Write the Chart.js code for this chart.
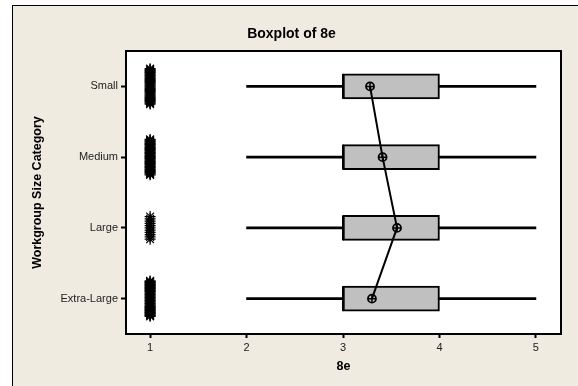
<!DOCTYPE html>
<html lang="en">
<head>
    <meta charset="UTF-8">
    <title>Boxplot of 8e</title>
    <script src="https://cdn.jsdelivr.net/npm/chart.js"></script>
    <style>
        html, body { margin: 0; padding: 0; background: #ffffff; }
    </style>
</head>
<body>
    <div style="width: 578px; height: 386px">
        <canvas id="myChart"></canvas>
    </div>
    <script>
    // Groups, top to bottom
    const categories = ['Small', 'Medium', 'Large', 'Extra-Large'];

    // Box statistics per group
    const whiskerLow = [2, 2, 2, 2];
    const q1 = [3, 3, 3, 3];
    const medians = [3, 3, 3, 3];
    const q3 = [4, 4, 4, 4];
    const whiskerHigh = [5, 5, 5, 5];
    const means = [3.28, 3.41, 3.56, 3.30];

    // Outliers: every one of them sits at 1, only the counts differ
    const outlierValue = 1;
    const outlierCounts = [40, 44, 11, 48];

    const xTicks = [1, 2, 3, 4, 5];

    // tied outliers are stacked along the group band
    const tieStep = 0.032;
    const maxSpread = 0.5;
    const outlierPoints = [];
    outlierCounts.forEach((n, i) => {
        const spread = Math.min((n - 1) * tieStep, maxSpread);
        for (let k = 0; k < n; k++) {
            const off = n > 1 ? -spread / 2 + spread * k / (n - 1) : 0;
            outlierPoints.push({ x: outlierValue, y: i + off });
        }
    });

    const frame = {
        id: 'frame',
        beforeDraw(chart) {
            const ctx = chart.ctx;
            const a = chart.chartArea;
            ctx.save();
            ctx.fillStyle = '#ffffff';
            ctx.fillRect(0, 0, chart.width, chart.height);
            ctx.fillStyle = '#efebe1';
            ctx.fillRect(12.5, 5.5, chart.width + 10, chart.height + 10);
            ctx.strokeStyle = '#000000';
            ctx.lineWidth = 1;
            ctx.strokeRect(12.5, 5.5, chart.width + 10, chart.height + 10);
            ctx.fillStyle = '#ffffff';
            ctx.fillRect(a.left, a.top, a.right - a.left, a.bottom - a.top);
            ctx.restore();
        },
        afterDraw(chart) {
            const ctx = chart.ctx;
            const a = chart.chartArea;
            ctx.save();
            ctx.strokeStyle = '#000000';
            ctx.lineWidth = 2;
            ctx.strokeRect(a.left, a.top, a.right - a.left, a.bottom - a.top);
            ctx.restore();
        }
    };

    const tickFont = { family: "'Liberation Sans', Arial, sans-serif", size: 11 };
    const axisFont = { family: "'Liberation Sans', Arial, sans-serif", size: 12.5, weight: 'bold' };
    const titleFont = { family: "'Liberation Sans', Arial, sans-serif", size: 14, weight: 'bold' };

    const ctx = document.getElementById('myChart').getContext('2d');
    const myChart = new Chart(ctx, {
        type: 'bar',
        data: {
            datasets: [
                {
                    // whiskers
                    data: categories.map((c, i) => ({ y: i, x: [whiskerLow[i], whiskerHigh[i]] })),
                    backgroundColor: '#000000',
                    borderWidth: 0,
                    barThickness: 2,
                    grouped: false,
                    order: 6
                },
                {
                    // boxes
                    data: categories.map((c, i) => ({ y: i, x: [q1[i], q3[i]] })),
                    backgroundColor: '#c0c0c0',
                    borderColor: '#000000',
                    borderWidth: 2,
                    borderSkipped: false,
                    barThickness: 25,
                    grouped: false,
                    order: 5
                },
                {
                    type: 'scatter',
                    data: categories.map((c, i) => ({ x: medians[i], y: i })),
                    pointStyle: 'line',
                    rotation: 90,
                    pointRadius: 12.5,
                    borderColor: '#000000',
                    borderWidth: 2,
                    order: 4
                },
                {
                    type: 'scatter',
                    data: outlierPoints,
                    pointStyle: 'star',
                    pointRadius: 5.5,
                    borderColor: '#000000',
                    backgroundColor: '#000000',
                    borderWidth: 1.2,
                    order: 3
                },
                {
                    // mean connect line
                    type: 'line',
                    indexAxis: 'y',
                    data: categories.map((c, i) => ({ x: means[i], y: i })),
                    borderColor: '#000000',
                    borderWidth: 2,
                    fill: false,
                    tension: 0,
                    pointStyle: 'circle',
                    pointRadius: 4,
                    pointBackgroundColor: 'rgba(0,0,0,0)',
                    pointBorderColor: '#000000',
                    pointBorderWidth: 1.8,
                    order: 2
                },
                {
                    type: 'scatter',
                    data: categories.map((c, i) => ({ x: means[i], y: i })),
                    pointStyle: 'cross',
                    pointRadius: 4,
                    borderColor: '#000000',
                    borderWidth: 1.5,
                    order: 1
                }
            ]
        },
        options: {
            indexAxis: 'y',
            responsive: true,
            maintainAspectRatio: false,
            animation: false,
            layout: { padding: { left: 22, right: 17, top: 0, bottom: 0 } },
            scales: {
                x: {
                    type: 'linear',
                    min: 0.75,
                    max: 5.26,
                    afterBuildTicks: s => { s.ticks = xTicks.map(v => ({ value: v })); },
                    afterFit: s => { s.height = 52; },
                    grid: { drawOnChartArea: false, tickLength: 4, tickWidth: 2, tickColor: '#000000' },
                    border: { display: false },
                    ticks: { font: tickFont, color: '#222222', padding: 3, maxRotation: 0 },
                    title: { display: true, text: '8e', font: axisFont, color: '#000000', padding: { top: 0, bottom: 11.5 } }
                },
                y: {
                    type: 'linear',
                    min: -0.5,
                    max: 3.5,
                    reverse: true,
                    offset: false,
                    afterBuildTicks: s => { s.ticks = categories.map((c, i) => ({ value: i })); },
                    afterFit: s => { s.width = 104; },
                    grid: { drawOnChartArea: false, offset: false, tickLength: 5, tickWidth: 2, tickColor: '#000000' },
                    border: { display: false },
                    ticks: {
                        font: tickFont,
                        color: '#222222',
                        padding: 3,
                        callback: v => categories[v]
                    },
                    title: { display: true, text: 'Workgroup Size Category', font: axisFont, color: '#000000', padding: { top: 8, bottom: 0 } }
                }
            },
            plugins: {
                legend: { display: false },
                tooltip: { enabled: false },
                title: {
                    display: true,
                    text: 'Boxplot of 8e',
                    font: titleFont,
                    color: '#000000',
                    padding: { top: 25.6, bottom: 8.6 }
                }
            }
        },
        plugins: [frame]
    });
    </script>
</body>
</html>
